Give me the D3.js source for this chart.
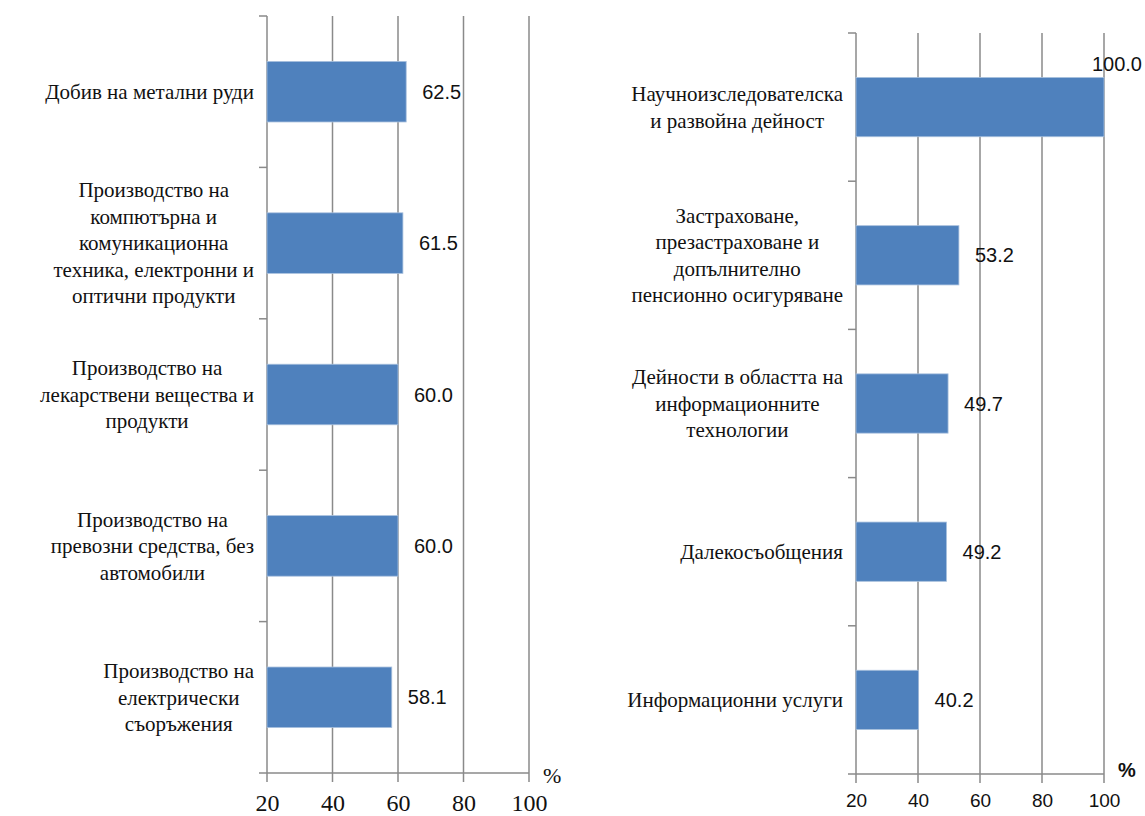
<!DOCTYPE html>
<html>
<head>
<meta charset="utf-8">
<script src="https://cdn.jsdelivr.net/npm/d3@7"></script>
<style>
  body { margin: 0; background: #fff; }
  svg { display: block; }
  .serif { font-family: "Liberation Serif", "DejaVu Serif", "Noto Serif", "Times New Roman", Tinos, serif; }
  .sans { font-family: "Liberation Sans", Arial, Arimo, sans-serif; }
</style>
</head>
<body>
<svg width="1145" height="816"></svg>
<script>
// data
var leftCategories = [
    "Добив на метални руди",
    "Производство на\nкомпютърна и\nкомуникационна\nтехника, електронни и\nоптични продукти",
    "Производство на\nлекарствени вещества и\nпродукти",
    "Производство на\nпревозни средства, без\nавтомобили",
    "Производство на\nелектрически\nсъоръжения"
];
var leftValues = [62.5, 61.5, 60.0, 60.0, 58.1];

var rightCategories = [
    "Научноизследователска\nи развойна дейност",
    "Застраховане,\nпрезастраховане и\nдопълнително\nпенсионно осигуряване",
    "Дейности в областта на\nинформационните\nтехнологии",
    "Далекосъобщения",
    "Информационни услуги"
];
var rightValues = [100.0, 53.2, 49.7, 49.2, 40.2];

var xTicks = [20, 40, 60, 80, 100];
var unitLabel = "%";

var svg = d3.select("svg"),
    width = +svg.attr("width"),
    height = +svg.attr("height");

var axisColor = "#8a8a8a",
    barColor = "#4f81bd";

function drawPanel(opt) {
    var g = svg.append("g");

    var x = d3.scaleLinear().domain([20, 100]).range([opt.left, opt.right]);
    var y = d3.scaleBand()
        .domain(d3.range(opt.categories.length))
        .range([opt.top, opt.bottom])
        .paddingInner(0.6)
        .paddingOuter(0.3);

    // vertical grid lines (run a bit below the axis as tick marks)
    g.selectAll(".grid")
        .data(xTicks)
        .enter().append("line")
        .attr("x1", function (d) { return x(d); })
        .attr("x2", function (d) { return x(d); })
        .attr("y1", opt.top)
        .attr("y2", opt.bottom + 9)
        .attr("stroke", axisColor)
        .attr("stroke-width", 1.5);

    // bottom axis line, extends left with the last category tick
    g.append("line")
        .attr("x1", opt.left - 8).attr("x2", opt.right)
        .attr("y1", opt.bottom).attr("y2", opt.bottom)
        .attr("stroke", axisColor).attr("stroke-width", 1.5);

    // category boundary ticks
    var step = y.step();
    g.selectAll(".ctick")
        .data(d3.range(opt.categories.length))
        .enter().append("line")
        .attr("x1", opt.left - 8).attr("x2", opt.left)
        .attr("y1", function (i) { return y(i) - y.paddingOuter() * step; })
        .attr("y2", function (i) { return y(i) - y.paddingOuter() * step; })
        .attr("stroke", axisColor).attr("stroke-width", 1.5);

    // bars
    g.selectAll(".bar")
        .data(opt.values)
        .enter().append("rect")
        .attr("x", x(20))
        .attr("y", function (d, i) { return y(i); })
        .attr("width", function (d) { return x(d) - x(20); })
        .attr("height", y.bandwidth())
        .attr("fill", barColor)
        .attr("stroke", "#a9c1de")
        .attr("stroke-width", 0.8);

    // value labels
    g.selectAll(".val")
        .data(opt.values)
        .enter().append("text")
        .attr("class", "sans")
        .attr("font-size", 20)
        .attr("fill", "#111")
        .attr("x", function (d) { return x(d) + 16; })
        .attr("y", function (d, i) { return y(i) + y.bandwidth() / 2; })
        .attr("dy", "0.35em")
        .text(function (d) { return d.toFixed(1); })
        .each(function (d, i) {
            var t = d3.select(this);
            if (x(d) + 16 + this.getComputedTextLength() > width - 2) {
                t.attr("text-anchor", "end")
                    .attr("x", width - 3)
                    .attr("y", y(i) - 6)
                    .attr("dy", null);
            }
        });

    // category labels, centred block right-aligned against the axis
    opt.categories.forEach(function (label, i) {
        var lines = label.split("\n");
        var t = g.append("text")
            .attr("class", "serif")
            .attr("font-size", 21)
            .attr("fill", "#111")
            .attr("text-anchor", "middle");
        var cy = y(i) + y.bandwidth() / 2;
        var lh = 26.5;
        lines.forEach(function (ln, k) {
            t.append("tspan")
                .attr("y", cy + (k - (lines.length - 1) / 2) * lh)
                .attr("dy", "0.35em")
                .text(ln);
        });
        var maxW = 0;
        t.selectAll("tspan").each(function () {
            maxW = Math.max(maxW, this.getComputedTextLength());
        });
        t.selectAll("tspan").attr("x", opt.left - 13 - maxW / 2);
    });

    // tick labels
    var axis = d3.axisBottom(x).tickValues(xTicks).tickSize(0).tickPadding(0);
    var ag = g.append("g")
        .attr("transform", "translate(0," + opt.tickY + ")")
        .call(axis);
    ag.attr("font-family", null).attr("font-size", null);
    ag.select(".domain").remove();
    ag.selectAll("text")
        .attr("dy", null)
        .attr("y", 0)
        .attr("class", opt.tickClass)
        .attr("fill", "#111")
        .attr("font-size", opt.tickSize);

    // unit
    g.append("text")
        .attr("class", opt.tickClass)
        .attr("x", opt.unitX)
        .attr("y", opt.unitY)
        .attr("font-size", opt.unitSize)
        .attr("font-weight", opt.unitWeight)
        .attr("fill", "#111")
        .text(unitLabel);
}

drawPanel({
    categories: leftCategories,
    values: leftValues,
    left: 267, right: 529, top: 16, bottom: 773,
    tickY: 811,
    tickClass: "serif",
    tickSize: 24,
    unitX: 543, unitY: 783, unitSize: 22, unitWeight: "normal"
});

drawPanel({
    categories: rightCategories,
    values: rightValues,
    left: 856, right: 1104, top: 33, bottom: 774,
    tickY: 807,
    tickClass: "sans",
    tickSize: 19,
    unitX: 1118, unitY: 777, unitSize: 20, unitWeight: "bold"
});
</script>
</body>
</html>
